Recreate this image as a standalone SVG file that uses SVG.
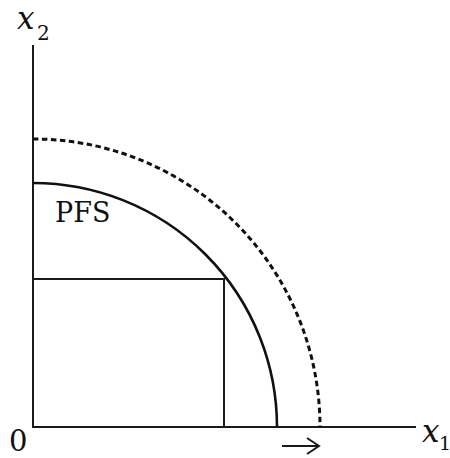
<svg xmlns="http://www.w3.org/2000/svg" width="450" height="458" viewBox="0 0 450 458">
<style>
.ln{fill:none;stroke:#1a1a1a;stroke-width:2}
.crv{fill:none;stroke:#111;stroke-width:2.6}
.dash{fill:none;stroke:#111;stroke-width:3;stroke-dasharray:5.5 3.5}
text{fill:#111;font-family:'DejaVu Serif',serif}
.it{font-style:italic}
</style>
<rect width="450" height="458" fill="#fff"/>
<g id="axes">
<line class="ln" x1="33" y1="45" x2="33" y2="428"/>
<line class="ln" x1="32" y1="427" x2="416" y2="427"/>
</g>
<g id="connectors">
<path id="pfs-curve" class="crv" d="M33,183 A244,244 0 0 1 277,427"/>
<path id="shifted-curve" class="dash" d="M33,139 A287,288 0 0 1 320,427"/>
<polyline id="point-box" class="ln" points="33,279 224,279 224,427"/>
<g id="shift-arrow">
<line class="ln" x1="282" y1="446" x2="319" y2="446"/>
<polyline class="ln" points="307,438 319,446 307,454"/>
</g>
</g>
<g id="labels">
<text class="it" x="17" y="29" font-size="31">x</text>
<text x="37" y="40" font-size="20">2</text>
<text class="it" x="422" y="442" font-size="31">x</text>
<text x="439" y="450" font-size="19">1</text>
<text x="9" y="451" font-size="29">0</text>
<text x="55" y="222" font-size="27">PFS</text>
</g>
</svg>
